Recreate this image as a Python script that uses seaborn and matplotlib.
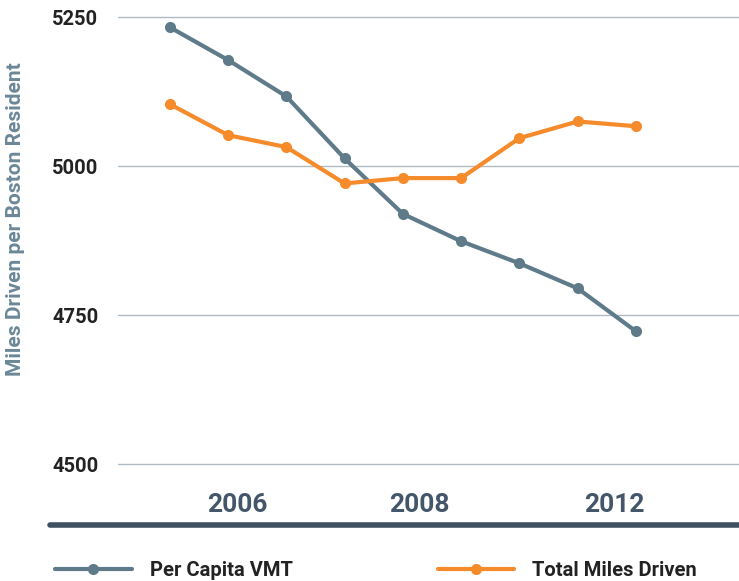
import pandas as pd
import matplotlib.pyplot as plt
import seaborn as sns
from matplotlib.lines import Line2D

# Data (nine consecutive years, categorical positions)
steps = list(range(9))
per_capita_vmt = [5233, 5178, 5117, 5013, 4920, 4874, 4837, 4795, 4723]
total_miles = [5104, 5052, 5032, 4971, 4980, 4980, 5047, 5075, 5067]
tick_pos = [1.15, 4.29, 7.63]
tick_labels = ['2006', '2008', '2012']
y_ticks = [4500, 4750, 5000, 5250]

df = pd.DataFrame({
    'step': steps * 2,
    'miles': per_capita_vmt + total_miles,
    'series': ['Per Capita VMT'] * 9 + ['Total Miles Driven'] * 9,
})

color_map = {'Per Capita VMT': '#5f7a89', 'Total Miles Driven': '#f68b2c'}

sns.set_style('white')
plt.rcParams['font.family'] = ['Roboto', 'DejaVu Sans']

fig = plt.figure(figsize=(7.39, 5.81), dpi=100)
ax = fig.add_axes([118 / 739, 1 - 525 / 581, 621 / 739, 515 / 581])

sns.lineplot(data=df, x='step', y='miles', hue='series', palette=color_map,
             marker='o', markersize=8, markeredgewidth=0, linewidth=3,
             legend=False, ax=ax)

ax.set_xlim(-0.89, 9.77)
ax.set_ylim(4398, 5262)
ax.set_yticks(y_ticks)
ax.set_yticklabels([str(v) for v in y_ticks], fontsize=14.5, fontweight='bold',
                   color='#222222')
ax.set_xticks(tick_pos)
ax.set_xticklabels(tick_labels, fontsize=19, fontweight='bold', color='#44566a')
ax.tick_params(axis='y', length=0, pad=14)
ax.tick_params(axis='x', length=0, pad=-23)
ax.grid(True, axis='y', color='#aebbc4', linewidth=1)
for s in ax.spines.values():
    s.set_visible(False)
ax.set_xlabel('')
ax.set_ylabel('')

fig.text(16 / 739, 1 - 219 / 581, 'Miles Driven per Boston Resident', rotation=90,
         ha='center', va='center', fontsize=15, fontweight='bold', color='#6b8797')

# thick baseline below the axis
fig.add_artist(Line2D([50 / 739, 1], [1 - 525 / 581] * 2, color='#3f5061',
                      linewidth=4, transform=fig.transFigure))

handles = [Line2D([], [], color=color_map[k], linewidth=3, marker='o',
                  markersize=8, markeredgewidth=0) for k in color_map]
leg = fig.legend(handles, list(color_map), loc='center left',
                 bbox_to_anchor=(55 / 739, 1 - 571 / 581), ncol=2, frameon=False,
                 handlelength=3.8, handletextpad=0.9, columnspacing=7.2,
                 borderpad=0, borderaxespad=0,
                 prop={'size': 14.5, 'weight': 'bold'})
for t in leg.get_texts():
    t.set_color('#222222')

plt.savefig('out.png', dpi=100)
